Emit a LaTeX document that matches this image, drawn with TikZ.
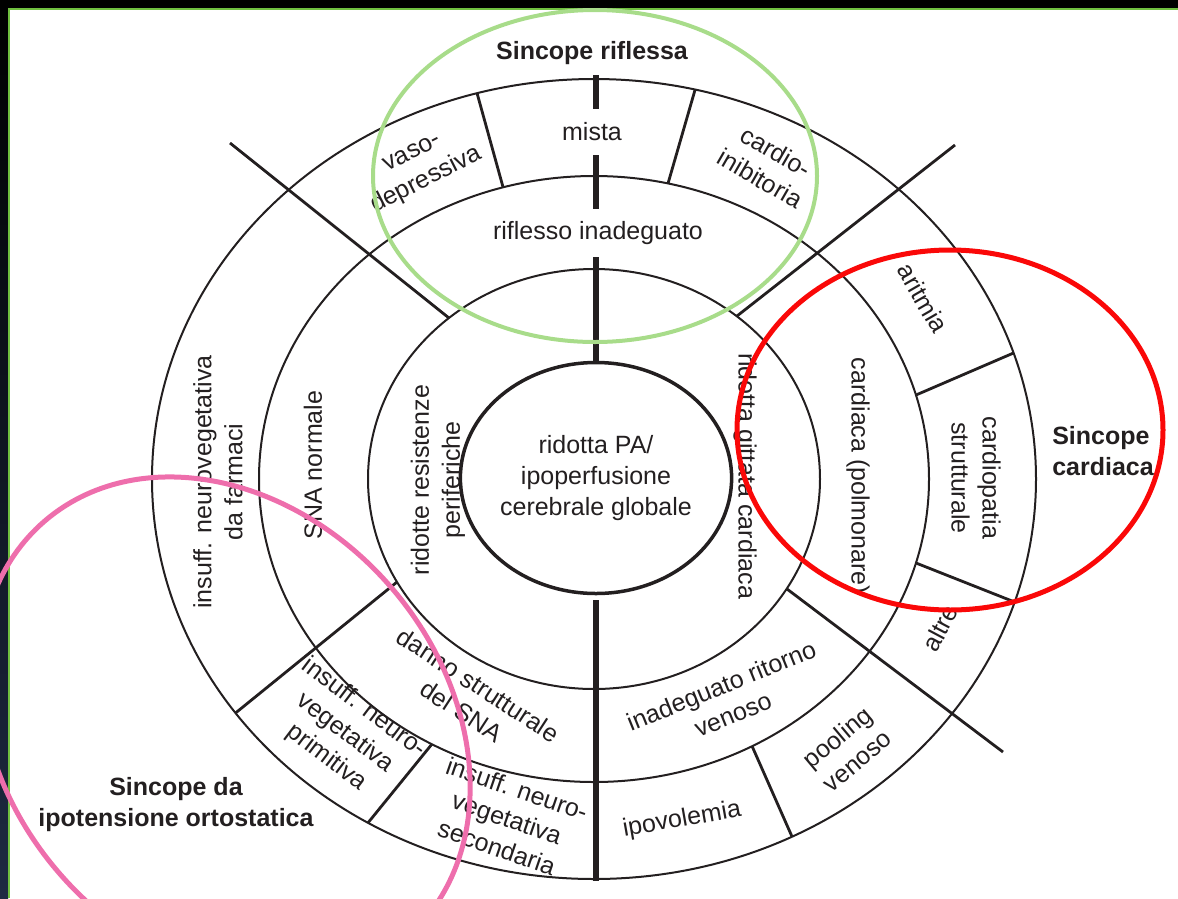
\documentclass[tikz,border=0pt]{standalone}
\usepackage{fontspec}
\setmainfont{Liberation Sans}
\usetikzlibrary{shapes.geometric}
\definecolor{inkgray}{RGB}{35,31,32}
\definecolor{leafgreen}{RGB}{168,220,138}
\definecolor{framegreen}{RGB}{112,192,64}
\definecolor{alertred}{RGB}{250,8,8}
\definecolor{rosepink}{RGB}{238,110,172}
\definecolor{slatenavy}{RGB}{30,42,66}
\tikzset{
  ring/.style={draw=inkgray,line width=2},
  spoke/.style={draw=inkgray,line width=2.8},
  axisline/.style={draw=inkgray,line width=6},
  lbl/.style={text=inkgray,align=center,inner sep=0pt,font=\fontsize{25}{31}\selectfont},
  heading/.style={lbl,font=\fontsize{25}{31}\selectfont\bfseries},
  gap/.style={fill=white,inner xsep=4pt,inner ysep=#1},
}

\begin{document}
\begin{tikzpicture}[x=1pt,y=-1pt]
\useasboundingbox (0,0) rectangle (1178,898);
\clip (0,0) rectangle (1178,898);
% slide frame
\fill[black] (0,0) rectangle (1178,8);
\shade[top color=black,bottom color=slatenavy] (0,0) rectangle (8,898);
\draw[framegreen,line width=2] (9,898) -- (9,9) -- (1178,9);

% rings
\coordinate (c) at (594,479);
\foreach \rx/\ry in {226/210,335/303,442/400}
  \draw[ring] (c) ellipse [x radius=\rx, y radius=\ry];
\node[lbl,draw=inkgray,line width=3.5,ellipse,minimum width=243pt,minimum height=231pt] (core) at (596,478)
  {ridotta PA/\\ipoperfusione\\cerebrale globale};

% vertical axis
\draw[axisline] (596,75) -- (core.north);
\draw[axisline] ([yshift=-5pt]core.south) -- (596,881);

% spokes
\draw[spoke] (230,143) -- (449,318);
\draw[spoke] (955,145) -- (737,316);
\draw[spoke] (397,582) -- (235.5,713);
\draw[spoke] (787,589) -- (1003,752);

% dividers of the outer ring
\draw[spoke] (477,93) -- (503,187);
\draw[spoke] (695,90) -- (668,183.5);
\draw[spoke] (916,395) -- (1013.5,353);
\draw[spoke] (916,563) -- (1014.6,602);
\draw[spoke] (752,746) -- (792,836.6);
\draw[spoke] (432,744) -- (368,822.8);

% labels
\node[heading] (riflessa) at (592,53) {Sincope riflessa};
\node[lbl,gap=14pt] (mista) at (592,132) {mista};
\node[lbl,rotate=27] (vasodep) at (420,168) {vaso-\\depressiva};
\node[lbl,rotate=-30] (cardioin) at (768,165) {cardio-\\inibitoria};
\node[lbl,gap=12pt] (riflesso) at (598,233) {riflesso inadeguato};
\node[lbl,rotate=-60] (aritmia) at (923,298) {aritmia};
\node[lbl,rotate=-90] (cardiopat) at (976,478) {cardiopatia\\strutturale};
\node[lbl,rotate=-90] (cardiaca) at (858,476) {cardiaca (polmonare)};
\node[lbl,rotate=-90] (gittata) at (745,476) {ridotta gittata cardiaca};
\node[lbl,rotate=62] (altre) at (940,628) {altre};
\node[lbl,rotate=22] (ritorno) at (727,700) {inadeguato ritorno\\venoso};
\node[lbl,rotate=10] (ipovol) at (682,820) {ipovolemia};
\node[lbl,rotate=40] (pooling) at (847,749) {pooling\\venoso};
\node[lbl,rotate=-33] (danno) at (470,698) {danno strutturale\\del SNA};
\node[lbl,rotate=-37] (primitiva) at (345,733) {insuff. neuro-\\vegetativa\\primitiva};
\node[lbl,rotate=-19] (secondaria) at (507,818) {insuff. neuro-\\vegetativa\\secondaria};
\node[lbl,rotate=90] (farmaci) at (218,482) {insuff. neurovegetativa\\da farmaci};
\node[lbl,rotate=90] (snanorm) at (313,465) {SNA normale};
\node[lbl,rotate=90] (resist) at (438,480) {ridotte resistenze\\periferiche};
\node[heading,align=left] (cardtitle) at (1103,451) {Sincope\\cardiaca};
\node[heading] (ortotitle) at (176,805) {Sincope da\\ipotensione ortostatica};

% highlight ellipses
\draw[leafgreen,line width=4] (595,176) ellipse [x radius=222, y radius=166];
\draw[alertred,line width=5] (950,430) ellipse [x radius=213, y radius=180];
\draw[rosepink,line width=5,rotate around={-49:(225,730)}] (225,730) ellipse [x radius=276, y radius=219];
\end{tikzpicture}
\end{document}
